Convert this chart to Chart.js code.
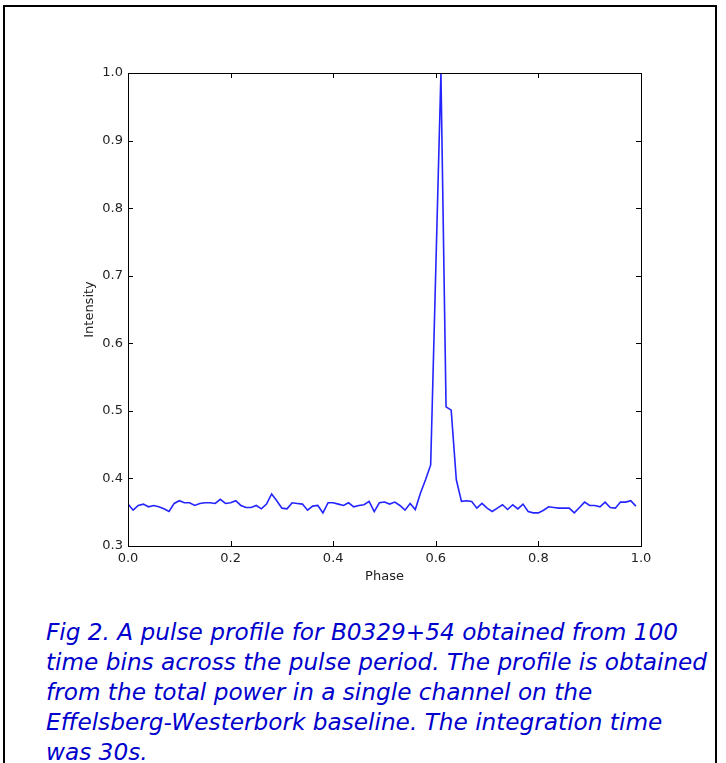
<!DOCTYPE html>
<html>
<head>
<meta charset="utf-8">
<title>B0329+54 pulse profile</title>
<script src="https://cdn.jsdelivr.net/npm/chart.js@4.4.1/dist/chart.umd.min.js"></script>
<style>
    body { margin: 0; background: #fff; width: 726px; height: 763px; overflow: hidden; position: relative; }
    .frame { position: absolute; left: 3px; top: 5px; width: 710px; height: 800px;
             border: 2.5px solid #000; border-bottom: none; }
    #profileChart { position: absolute; left: 0; top: 0; }
    .caption { position: absolute; left: 46px; top: 617px; width: 670px;
               font-family: "DejaVu Sans", Verdana, sans-serif; font-style: italic;
               font-size: 23.2px; line-height: 30px; color: #0000cc; white-space: nowrap; }
</style>
</head>
<body>
<div class="frame"></div>
<canvas id="profileChart" width="726" height="600"></canvas>
<div class="caption">
    Fig 2. A pulse profile for B0329+54 obtained from 100<br>
    time bins across the pulse period. The profile is obtained<br>
    from the total power in a single channel on the<br>
    Effelsberg-Westerbork baseline. The integration time<br>
    was 30s.
</div>
<script>
document.addEventListener('DOMContentLoaded', () => {

    // 100 time bins across one pulse period
    const binCount = 100;

    // normalised intensity per bin
    const intensity = [
        0.362, 0.353, 0.360, 0.362, 0.358, 0.360, 0.358, 0.355, 0.351, 0.363,
        0.367, 0.364, 0.364, 0.360, 0.363, 0.364, 0.364, 0.363, 0.369, 0.363,
        0.364, 0.367, 0.360, 0.357, 0.357, 0.360, 0.355, 0.362, 0.377, 0.367,
        0.356, 0.355, 0.364, 0.363, 0.362, 0.353, 0.359, 0.360, 0.349, 0.364,
        0.364, 0.362, 0.360, 0.364, 0.358, 0.360, 0.361, 0.366, 0.351, 0.364,
        0.365, 0.362, 0.365, 0.360, 0.353, 0.363, 0.354, 0.378, 0.398, 0.420,
        0.710, 1.000, 0.506, 0.501, 0.398, 0.366, 0.367, 0.366, 0.356, 0.363,
        0.356, 0.351, 0.356, 0.361, 0.354, 0.361, 0.355, 0.362, 0.351, 0.349,
        0.349, 0.353, 0.358, 0.357, 0.356, 0.356, 0.356, 0.349, 0.357, 0.365,
        0.360, 0.360, 0.358, 0.365, 0.357, 0.356, 0.365, 0.365, 0.367, 0.359
    ];

    const xTicks = [0.0, 0.2, 0.4, 0.6, 0.8, 1.0];
    const yTicks = [0.3, 0.4, 0.5, 0.6, 0.7, 0.8, 0.9, 1.0];

    const points = intensity.map((v, i) => ({ x: i / binCount, y: v }));

    const tickFont = { family: 'DejaVu Sans', size: 13 };

    // box round the plot with short inward ticks on every side
    const axesFrame = {
        id: 'axesFrame',
        afterDraw(chart) {
            const { ctx, chartArea: a, scales } = chart;
            const len = 5;
            ctx.save();
            ctx.strokeStyle = '#000';
            ctx.lineWidth = 1;
            ctx.beginPath();
            xTicks.forEach(v => {
                const px = Math.round(scales.x.getPixelForValue(v)) + 0.5;
                ctx.moveTo(px, a.bottom); ctx.lineTo(px, a.bottom - len);
                ctx.moveTo(px, a.top); ctx.lineTo(px, a.top + len);
            });
            yTicks.forEach(v => {
                const py = Math.round(scales.y.getPixelForValue(v)) + 0.5;
                ctx.moveTo(a.left, py); ctx.lineTo(a.left + len, py);
                ctx.moveTo(a.right, py); ctx.lineTo(a.right - len, py);
            });
            ctx.stroke();
            ctx.strokeRect(Math.round(a.left) + 0.5, Math.round(a.top) + 0.5,
                Math.round(a.right - a.left), Math.round(a.bottom - a.top));
            ctx.restore();
        }
    };

    const ctx = document.getElementById('profileChart').getContext('2d');
    new Chart(ctx, {
        type: 'line',
        data: {
            datasets: [{
                data: points,
                borderColor: '#2424ff',
                borderWidth: 1.6,
                pointRadius: 0,
                tension: 0,
                fill: false
            }]
        },
        options: {
            responsive: false,
            animation: false,
            devicePixelRatio: 1,
            layout: { padding: { left: 78, right: 85, top: 73, bottom: 12 } },
            plugins: { legend: { display: false }, tooltip: { enabled: false } },
            scales: {
                x: {
                    type: 'linear',
                    min: 0, max: 1,
                    afterFit: s => { s.height = 42; },
                    afterBuildTicks: s => { s.ticks = xTicks.map(v => ({ value: v })); },
                    grid: { display: false, drawTicks: false },
                    border: { display: false },
                    ticks: { padding: 5, color: '#222', font: tickFont, maxRotation: 0,
                             callback: v => v.toFixed(1) },
                    title: { display: true, text: 'Phase', color: '#222', font: tickFont }
                },
                y: {
                    min: 0.3, max: 1.0,
                    afterFit: s => { s.width = 50; },
                    afterBuildTicks: s => { s.ticks = yTicks.map(v => ({ value: v })); },
                    grid: { display: false, drawTicks: false },
                    border: { display: false },
                    ticks: { padding: 5, color: '#222', font: tickFont,
                             callback: v => v.toFixed(1) },
                    title: { display: true, text: 'Intensity', color: '#222', font: tickFont }
                }
            }
        },
        plugins: [axesFrame]
    });

});
</script>
</body>
</html>
